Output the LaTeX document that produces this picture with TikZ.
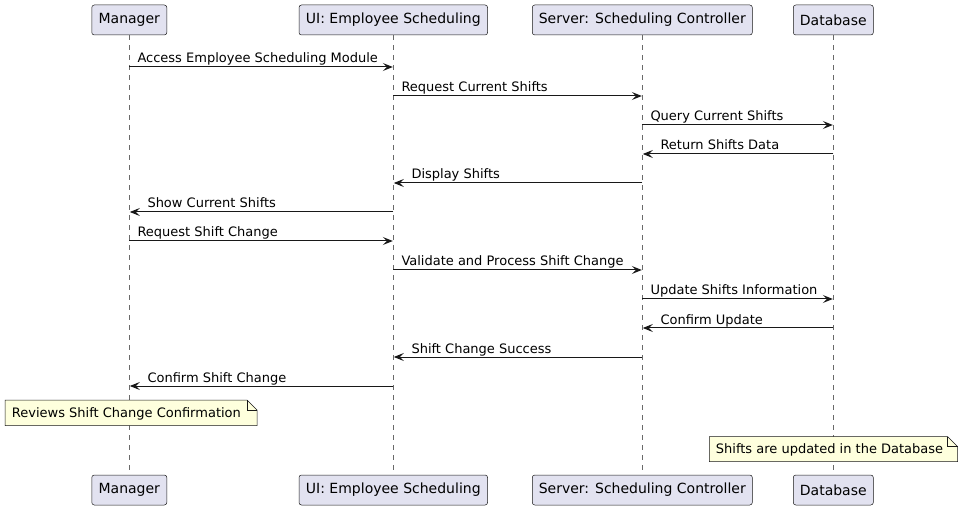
\documentclass[tikz,border=0pt]{standalone}
\usepackage{fontspec}
\setmainfont{DejaVu Sans}
\usetikzlibrary{arrows.meta}
\definecolor{partfill}{HTML}{E2E2F0}
\definecolor{ink}{HTML}{181818}
\definecolor{notefill}{HTML}{FEFFDD}
\tikzset{
  part/.style={draw=ink, line width=0.5pt, fill=partfill, rounded corners=2.5pt,
    minimum height=30pt, inner sep=0pt, font=\fontsize{14}{16}\selectfont, text=black},
  life/.style={draw=ink!65, line width=0.6pt, dash pattern=on 5pt off 5pt},
  msg/.style={draw=ink, line width=1pt, -{Stealth[length=10pt,width=8pt,inset=4pt]}},
  lbl/.style={inner sep=0pt, font=\fontsize{13}{15}\selectfont, text=black, anchor=base west},
  notebox/.style={draw=ink, line width=0.5pt, fill=notefill},
}
\begin{document}
\begin{tikzpicture}[x=1pt, y=-1pt]
\useasboundingbox (0,0) rectangle (963,510);
% participants top
\node[part, minimum width=75pt]  (Mt) at (129.3,20) {Manager};
\node[part, minimum width=188.6pt] (Ut) at (393.3,20) {UI: Employee Scheduling};
\node[part, minimum width=220pt] (St) at (642.3,20) {Server: Scheduling Controller};
\node[part, minimum width=80pt]  (Dt) at (833.3,20) {Database};
% participants bottom
\node[part, minimum width=75pt]  (Mb) at (129.3,490) {Manager};
\node[part, minimum width=188.6pt] (Ub) at (393.3,490) {UI: Employee Scheduling};
\node[part, minimum width=220pt] (Sb) at (642.3,490) {Server: Scheduling Controller};
\node[part, minimum width=80pt]  (Db) at (833.3,490) {Database};
% lifelines
\draw[life] (Mt.south) -- (Mb.north);
\draw[life] (Ut.south) -- (Ub.north);
\draw[life] (St.south) -- (Sb.north);
\draw[life] (Dt.south) -- (Db.north);
% rightward messages
\foreach \n/\a/\b/\y/\txt in {
  1/129.3/393.3/67/Access Employee Scheduling Module,
  2/393.3/642.3/96/Request Current Shifts,
  3/642.3/833.3/125/Query Current Shifts,
  7/129.3/393.3/241/Request Shift Change,
  8/393.3/642.3/270/Validate and Process Shift Change,
  9/642.3/833.3/299/Update Shifts Information}{
  \coordinate (s\n) at (\a,\y);
  \coordinate (e\n) at (\b-0.5,\y);
  \draw[msg] (s\n) -- (e\n);
  \node[lbl, xshift=8pt, yshift=4pt] (l\n) at (s\n) {\txt};
}
% leftward messages
\foreach \n/\a/\b/\y/\txt in {
  4/833.3/642.3/154/Return Shifts Data,
  5/642.3/393.3/183/Display Shifts,
  6/393.3/129.3/212/Show Current Shifts,
  10/833.3/642.3/328/Confirm Update,
  11/642.3/393.3/357/Shift Change Success,
  12/393.3/129.3/386/Confirm Shift Change}{
  \coordinate (s\n) at (\a,\y);
  \coordinate (e\n) at (\b+0.5,\y);
  \draw[msg] (s\n) -- (e\n);
  \node[lbl, xshift=17.5pt, yshift=4pt] (l\n) at (e\n) {\txt};
}
% note 1
\draw[notebox] (5,400) -- (247,400) -- (257,410) -- (257,425.7) -- (5,425.7) -- cycle;
\draw[draw=ink, line width=0.5pt] (247,400) -- (247,410) -- (257,410);
\node[lbl] (n1) at (11.7,417) {Reviews Shift Change Confirmation};
% note 2
\draw[notebox] (709.3,436.7) -- (947.7,436.7) -- (957.7,446.7) -- (957.7,461.7) -- (709.3,461.7) -- cycle;
\draw[draw=ink, line width=0.5pt] (947.7,436.7) -- (947.7,446.7) -- (957.7,446.7);
\node[lbl] (n2) at (715.7,453.3) {Shifts are updated in the Database};
\end{tikzpicture}
\end{document}
